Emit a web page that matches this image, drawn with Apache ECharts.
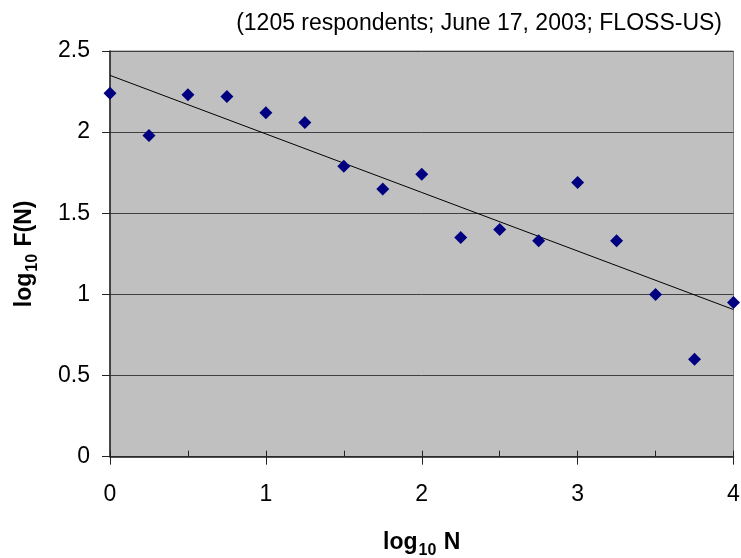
<!DOCTYPE html>
<html>
<head>
<meta charset="utf-8">
<script src="https://cdn.jsdelivr.net/npm/echarts@6/dist/echarts.min.js"></script>
<style>
  html, body { margin: 0; padding: 0; background: #fff; }
  #chart { width: 741px; height: 558px; }
</style>
</head>
<body>
<div id="chart"></div>
<script>
// log10 N vs log10 F(N)
var logN = [0, 0.25, 0.5, 0.75, 1, 1.25, 1.5, 1.75, 2, 2.25, 2.5, 2.75, 3, 3.25, 3.5, 3.75, 4];
var logF = [2.24, 1.98, 2.23, 2.22, 2.12, 2.06, 1.79, 1.65, 1.74, 1.35, 1.40, 1.33, 1.69, 1.33, 1.00, 0.60, 0.95];
var subtitle = "(1205 respondents; June 17, 2003; FLOSS-US)";

var FONT = "Liberation Sans, Arial, sans-serif";

/* linear trendline (least squares), like the spreadsheet one */
function fitLine(xs, ys) {
  var n = xs.length, mx = 0, my = 0;
  for (var i = 0; i < n; i++) { mx += xs[i]; my += ys[i]; }
  mx /= n; my /= n;
  var sxy = 0, sxx = 0;
  for (var j = 0; j < n; j++) {
    sxy += (xs[j] - mx) * (ys[j] - my);
    sxx += (xs[j] - mx) * (xs[j] - mx);
  }
  var k = sxy / sxx;
  return { k: k, b: my - k * mx };
}

var fit = fitLine(logN, logF);
var xFirst = logN[0], xLast = logN[logN.length - 1];
var trend = [[xFirst, fit.b + fit.k * xFirst], [xLast, fit.b + fit.k * xLast]];

var points = logN.map(function (x, i) { return [x, logF[i]]; });

// bold name with a subscript "10"
var nameRich = {
  a: { fontFamily: FONT, fontSize: 23, fontWeight: "bold", color: "#000", lineHeight: 28, verticalAlign: "bottom" },
  s: { fontFamily: FONT, fontSize: 16, fontWeight: "bold", color: "#000", lineHeight: 28, verticalAlign: "bottom", padding: [0, 1, -5, 1] }
};

var chart = echarts.init(document.getElementById("chart"));

var option = {
  animation: false,
  backgroundColor: "#fff",
  textStyle: { fontFamily: FONT },
  title: {
    text: subtitle,
    right: 14,
    top: 7,
    textStyle: { fontFamily: FONT, fontSize: 23, fontWeight: "normal", color: "#000" }
  },
  grid: {
    left: 110,
    right: 7.5,
    top: 51,
    bottom: 101.3,
    outerBoundsMode: "none",
    show: true,
    backgroundColor: "#c0c0c0",
    borderColor: "#808080",
    borderWidth: 1
  },
  xAxis: [
    {
      type: "value",
      min: 0,
      max: 4,
      interval: 1,
      name: "{a|log}{s|10}{a| N}",
      nameLocation: "middle",
      nameGap: 69,
      nameTextStyle: { rich: nameRich },
      axisLine: { show: true, lineStyle: { color: "#222", width: 1.5 } },
      axisTick: { show: true, inside: false, length: 8, lineStyle: { color: "#222" } },
      axisLabel: { margin: 26, fontFamily: FONT, fontSize: 23, color: "#000" },
      splitLine: { show: false }
    },
    {
      // minor ticks (half steps), drawn inside the plot
      type: "value",
      min: 0,
      max: 4,
      interval: 0.5,
      position: "bottom",
      axisLine: { show: false },
      axisTick: { show: true, inside: true, length: 6, lineStyle: { color: "#222" } },
      axisLabel: { show: false },
      splitLine: { show: false }
    }
  ],
  yAxis: {
    type: "value",
    min: 0,
    max: 2.5,
    interval: 0.5,
    name: "{a|log}{s|10}{a| F(N)}",
    nameLocation: "middle",
    nameGap: 74,
    nameRotate: 90,
    nameTextStyle: { rich: nameRich },
    axisLine: { show: true, lineStyle: { color: "#222", width: 1.5 } },
    axisTick: { show: true, inside: false, length: 8, lineStyle: { color: "#222" } },
    axisLabel: { margin: 20, fontFamily: FONT, fontSize: 23, color: "#000" },
    splitLine: { show: true, lineStyle: { color: "#404040", width: 1 } }
  },
  series: [
    {
      name: "trend",
      type: "line",
      xAxisIndex: 0,
      data: trend,
      showSymbol: false,
      lineStyle: { color: "#000", width: 1 },
      z: 2
    },
    {
      name: "log F(N)",
      type: "scatter",
      xAxisIndex: 0,
      data: points,
      symbol: "diamond",
      symbolSize: [13, 13],
      itemStyle: { color: "#000080", opacity: 1 },
      z: 3
    }
  ]
};

chart.setOption(option);
window.addEventListener("resize", function () { chart.resize(); });
</script>
</body>
</html>
